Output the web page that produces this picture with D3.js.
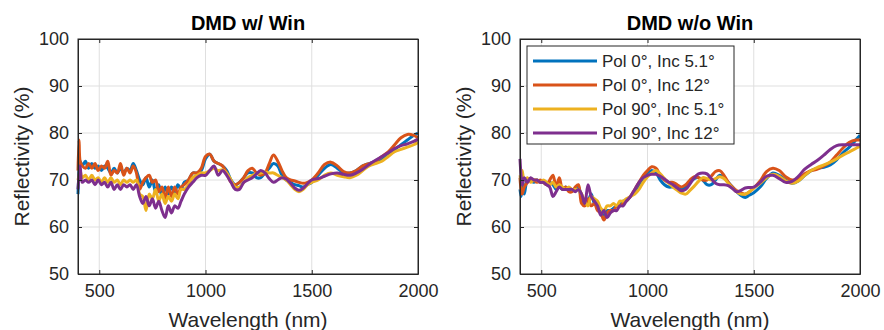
<!DOCTYPE html>
<html>
<head>
<meta charset="utf-8">
<script src="https://cdn.jsdelivr.net/npm/d3@7"></script>
<style>
  body { margin: 0; background: #fff; }
  svg { display: block; font-family: "Liberation Sans", Arial, Helvetica, sans-serif; }
</style>
</head>
<body>
<div id="chart"></div>
<script>
// wavelength grid (nm) shared by every series
const wavelengths = [400,405,410,420,435,450,465,480,495,510,525,540,555,570,585,600,615,630,645,660,675,690,705,720,735,750,765,780,795,810,825,840,855,870,885,900,920,940,960,980,
  1000,1020,1040,1060,1080,1100,1120,1140,1160,1180,1200,1220,1240,1260,1280,1300,1320,1340,1360,1380,1400,1420,1440,1460,1480,1500,
  1530,1560,1590,1620,1650,1680,1710,1740,1770,1800,1830,1860,1890,1920,1950,1980,2000];

const seriesNames = ["Pol 0°, Inc 5.1°", "Pol 0°, Inc 12°", "Pol 90°, Inc 5.1°", "Pol 90°, Inc 12°"];
const colors = ["#0072BD", "#D95319", "#EDB120", "#7E2F8E"];
const xTicks = [500, 1000, 1500, 2000];
const yTicks = [50, 60, 70, 80, 90, 100];

// DMD w/ Win
const winPol0Inc5 = [67,72,74,73,74,72.5,73.5,72.5,73,72,73,72.5,71.5,72.5,71.5,72.5,71.5,72.5,72,73.5,72,70,69,70.5,68.5,70,67.5,69,66.5,68.5,67,68.5,67.5,69,68,69.5,70,71.5,71.5,72,
  74.5,75.5,74,73.5,73,72,70,69,69.5,70.5,71.5,71.5,70.5,70.5,71.5,72.5,73.5,73,71,70,69.5,69,68.8,68.5,69,69.5,
  71,72.5,73.3,72.5,71.5,71.5,72,73,73.5,74,74.5,75.5,76.5,77.5,78.5,79.5,80];
const winPol0Inc12 = [72,78.5,74,73,72.5,73.5,72.5,73.5,72,73,72.5,74,71,72,71.5,73.5,71,72.5,71.5,73,71.5,68,69.5,70.5,71,69.5,70,67.5,68.5,66,68.5,66.5,68.5,67,68.5,69,70,71.5,71.5,72.5,
  75,75.5,74,73.5,73,71.5,69.5,69,69.5,70.5,72,72.5,71.5,71,71.5,73.5,75.3,74,72,70.5,70,69.8,69.5,69.3,69.5,70,
  71.5,73.3,73.8,73,71.8,71.5,72,73,73.5,74,75,76,77.5,79,79.7,79.5,79];
const winPol90Inc5 = [70,71,72,70.5,71,70,71,70,70.5,69.5,70.5,69.5,70.5,69.5,70,69,70,69.5,70,69.5,70,67,66.5,63.5,67,66,68,65.5,67,65,66.5,65.5,67,66,68,68,69,70.5,71,71.5,
  71.5,72,72.5,72,72.2,71.5,70,68.5,68.5,69.5,70.5,71,71.3,71.5,71.7,71.5,71.5,71,70.5,70,69,68,67.5,68,69,69.5,
  70,71,71.5,71,70.7,70.5,71,72,73,73.5,74,75,76,76.5,77,77.5,78];
const winPol90Inc12 = [68,71,73,69.5,70,69.5,70,69,70,69,69.5,68.5,69.5,68,69,68,69,68.5,69,68,69,66.5,65,66.5,64.5,66,64,65.5,63.5,62,64.5,63,64.5,64,65.5,67,68.5,69.5,70.5,71,
  71,72,73,71,72,71,69.5,68,68,69.5,70,70.5,71.3,72,71.5,70.3,69.5,70,70.5,70.2,69.3,68.3,67.8,68.3,69.2,70,
  70.3,70.8,71.3,71.5,71.2,71,71.5,72.3,73.3,74.2,75,75.8,76.7,77.3,77.7,78.2,78.7];

// DMD w/o Win
const noWinPol0Inc5 = [68,66.5,71,67,70,70,69.5,70,69.5,69.5,69,69.5,69,68,68.5,68,68.5,68,68,68,68.5,66,65,65.5,67,65,64.5,63,62.5,63.5,63.5,64,64.5,64.5,65.5,65.5,66.5,67.5,69,70.5,
  71.3,72,71.5,70,69,68.5,68.5,68.3,68,68.5,69.5,70.3,70.5,70,69,69,70,71,70.5,69.5,68.5,67.5,66.7,66.3,66.8,67.3,
  68.5,70.3,71.5,71,70,69.3,69.8,71,72,72.5,72.7,73.2,74.3,75.8,77,78.5,79.5];
const noWinPol0Inc12 = [70.5,68,67,68.5,69.5,70,70,69.5,70,69.5,69,70,71,68.5,70.5,68,68.5,67.5,67.5,68.5,69,65,64.5,66,64.5,65,63.5,63,61.5,63,63.5,63.5,64.5,64.5,65,65.5,66.5,68,69.5,71,
  72,72.8,72.5,71,70,69.5,69.5,69,68.5,69,70,70.7,70.5,70,70,70.8,71.8,72,71,69.5,68.5,67.7,67.2,67,67.5,68.3,
  69.8,71.8,72.5,72,70.7,70,70.3,71.3,72,72.3,73,73.8,75.3,76.8,78,78.5,78.5];
const noWinPol90Inc5 = [71,70,72,70,70.5,69.5,70,70,69.5,70,69.5,69,69.5,68.5,69,68.5,68,68.5,68,68,68,67,65.5,64.5,66.5,66,65.5,64,63.5,64.5,64.5,65,64.5,65.5,65.5,66,66.5,67,68,69.5,
  70.7,71.5,72,71.3,70.3,69.3,68.5,67.8,67.2,67,67.8,68.7,69.7,70.5,70.3,70,70.3,70.7,70.3,69.3,68.3,67.5,67,67,67.5,68.3,
  69.3,70.5,71.2,70.8,69.8,69.3,69.8,71,72,72.7,73.2,73.8,74.5,75.3,76,76.7,77.2];
const noWinPol90Inc12 = [74.5,71,69,70.5,69.5,70.5,70,70,69.5,69.5,69,68.5,66.5,67.5,68.5,68,68,68,68,67.5,68,67,65,69,66.5,65.5,64.5,62.5,63.5,62,63,63.5,63.5,64.5,64.5,65.5,66.5,68,69.5,70.5,
  71,71.2,71.2,70.8,70.2,69.5,69,68.3,67.7,68,69.2,70.5,71.3,71.5,71.3,70.3,69.3,69,69,68.8,68.2,67.5,67.8,68.3,68.4,68.5,
  69.5,70.8,71,70.3,69.5,69.7,70.8,72.3,73.3,74.2,75.3,76.5,77.3,77.5,77.5,77.5,77.5];

const panels = [
  { title: "DMD w/ Win", left: 78, series: [winPol0Inc5, winPol0Inc12, winPol90Inc5, winPol90Inc12], legend: false },
  { title: "DMD w/o Win", left: 520, series: [noWinPol0Inc5, noWinPol0Inc12, noWinPol90Inc5, noWinPol90Inc12], legend: true }
];

const W = 884, H = 330;
const plotW = 340, plotTop = 39, plotH = 235;
const axisColor = "#262626";

const svg = d3.select("#chart").append("svg")
  .attr("width", W)
  .attr("height", H);

panels.forEach(function(p) {
  const g = svg.append("g").attr("transform", "translate(" + p.left + "," + plotTop + ")");

  const x = d3.scaleLinear().domain([400, 2000]).range([0, plotW]);
  const y = d3.scaleLinear().domain([50, 100]).range([plotH, 0]);

  // grid
  g.append("g").selectAll("line").data(xTicks.filter(d => d < 2000)).enter().append("line")
    .attr("x1", d => x(d)).attr("x2", d => x(d))
    .attr("y1", 0).attr("y2", plotH)
    .attr("stroke", "#dfdfdf").attr("stroke-width", 1);
  g.append("g").selectAll("line").data(yTicks.filter(d => d > 50 && d < 100)).enter().append("line")
    .attr("x1", 0).attr("x2", plotW)
    .attr("y1", d => y(d)).attr("y2", d => y(d))
    .attr("stroke", "#dfdfdf").attr("stroke-width", 1);

  // lines
  const line = d3.line()
    .x((d, i) => x(wavelengths[i]))
    .y(d => y(d))
    .curve(d3.curveCatmullRom.alpha(0.5));

  p.series.forEach(function(s, k) {
    g.append("path")
      .datum(s)
      .attr("d", line)
      .attr("fill", "none")
      .attr("stroke", colors[k])
      .attr("stroke-width", 3)
      .attr("stroke-linejoin", "round");
  });

  // axes (ticks inside, box all round)
  g.append("g").attr("transform", "translate(0," + plotH + ")")
    .call(d3.axisBottom(x).tickValues(xTicks).tickFormat(d3.format("d")).tickSizeInner(-4).tickSizeOuter(0).tickPadding(10));
  g.append("g")
    .call(d3.axisLeft(y).tickValues(yTicks).tickFormat(d3.format("d")).tickSizeInner(-4).tickSizeOuter(0).tickPadding(9));
  g.append("g")
    .call(d3.axisTop(x).tickValues(xTicks).tickSizeInner(-4).tickSizeOuter(0).tickFormat(""));
  g.append("g").attr("transform", "translate(" + plotW + ",0)")
    .call(d3.axisRight(y).tickValues(yTicks).tickSizeInner(-4).tickSizeOuter(0).tickFormat(""));

  g.selectAll(".domain").attr("stroke", axisColor);
  g.selectAll(".tick line").attr("stroke", axisColor);
  g.selectAll(".tick text")
    .attr("fill", axisColor)
    .style("font-size", "18px")
    .style("font-family", "'Liberation Sans', Arial, sans-serif");

  g.append("rect")
    .attr("width", plotW).attr("height", plotH)
    .attr("fill", "none").attr("stroke", axisColor).attr("stroke-width", 1);

  // title and labels
  g.append("text")
    .attr("x", plotW / 2).attr("y", -9)
    .attr("text-anchor", "middle")
    .attr("font-size", "20px").attr("font-weight", "bold")
    .attr("fill", "#000")
    .text(p.title);

  g.append("text")
    .attr("x", plotW / 2).attr("y", plotH + 53)
    .attr("text-anchor", "middle")
    .attr("font-size", "21px")
    .attr("fill", axisColor)
    .text("Wavelength (nm)");

  g.append("text")
    .attr("transform", "translate(-49," + (plotH / 2) + ") rotate(-90)")
    .attr("text-anchor", "middle")
    .attr("font-size", "21px")
    .attr("fill", axisColor)
    .text("Reflectivity (%)");

  if (p.legend) {
    const lg = g.append("g").attr("transform", "translate(7,7)");
    lg.append("rect")
      .attr("width", 207).attr("height", 98)
      .attr("fill", "#fff").attr("stroke", axisColor).attr("stroke-width", 1);
    seriesNames.forEach(function(name, k) {
      const yy = 15 + k * 24;
      lg.append("line")
        .attr("x1", 6).attr("x2", 70)
        .attr("y1", yy).attr("y2", yy)
        .attr("stroke", colors[k]).attr("stroke-width", 3);
      lg.append("text")
        .attr("x", 75).attr("y", yy + 6)
        .attr("font-size", "17px")
        .attr("fill", axisColor)
        .text(name);
    });
  }
});
</script>
</body>
</html>
